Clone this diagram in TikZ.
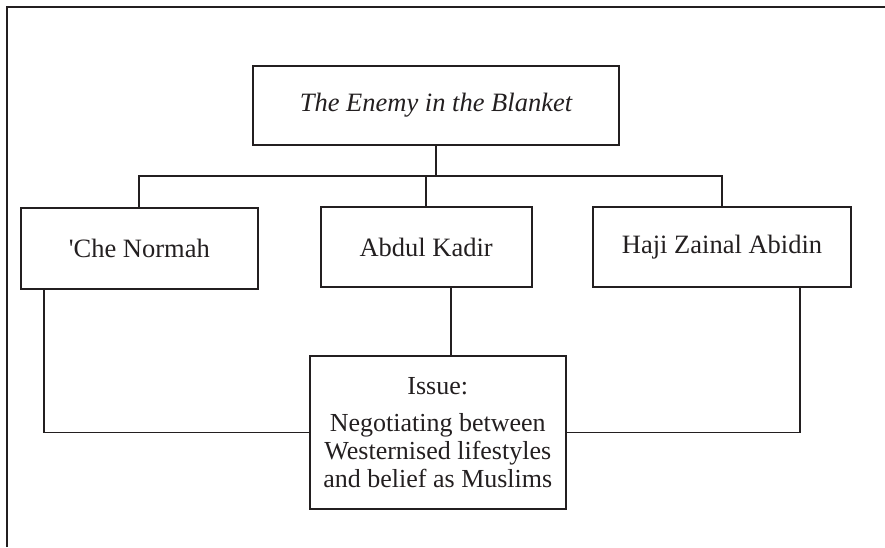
\documentclass[tikz,border=0pt]{standalone}
\usepackage{fontspec}
\setmainfont{Liberation Serif}
\definecolor{ink}{HTML}{231F20}
\begin{document}
\begin{tikzpicture}[x=1pt,y=-1pt,
  box/.style={draw=ink,line width=1.8pt,text=ink,inner sep=0pt,font=\fontsize{26.5}{28}\selectfont,align=center},
  link/.style={draw=ink,line width=1.8pt},
  frame/.style={draw=ink,line width=2.8pt}]
\useasboundingbox (0,0) rectangle (885,547);
\draw[frame] (7,547) -- (7,7) -- (885,7);
\node[box,minimum width=366.6pt,minimum height=79pt] (title) at (436,105.5) {\itshape The Enemy in the Blanket};
\node[box,minimum width=236.7pt,minimum height=81pt] (che) at (139.3,248.7) {\textquotesingle Che Normah};
\node[box,minimum width=211pt,minimum height=80pt] (abdul) at (426.2,247) {Abdul Kadir};
\node[box,minimum width=258pt,minimum height=80pt] (haji) at (722,247) {Haji Zainal Abidin};
\node[box,minimum width=255.7pt,minimum height=153pt,font=\fontsize{26}{28}\selectfont] (issue) at (437.8,432.5)
  {Issue:\\[8.7pt]Negotiating between\\Westernised lifestyles\\and belief as Muslims};
\coordinate (bus) at (436,176);
\coordinate (ai) at (451,287);
\draw[link] (title.south) -- (bus);
\draw[link] (che.north) |- (bus);
\draw[link] (haji.north) |- (bus);
\draw[link] (abdul.north) -- (abdul.north |- bus);
\draw[link] (ai) -- (ai |- issue.north);
\draw[link] ([xshift=24pt]che.south west) |- (issue.west);
\draw[link] ([xshift=-51.7pt]haji.south east) |- (issue.east);
\end{tikzpicture}
\end{document}
